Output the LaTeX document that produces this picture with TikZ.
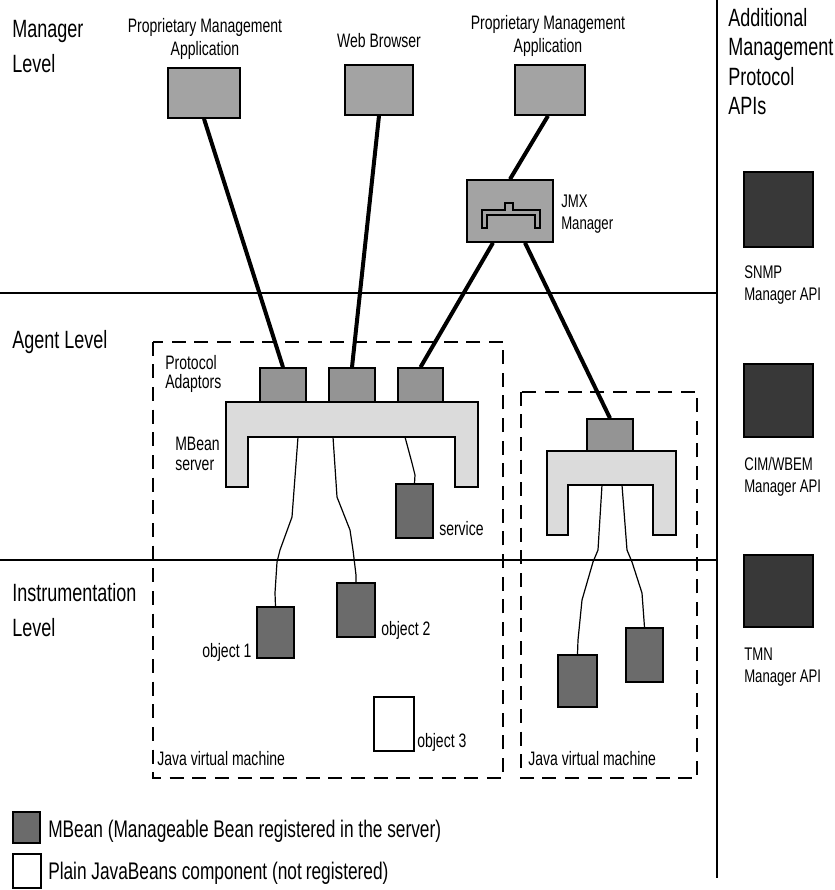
\documentclass[tikz,border=0pt]{standalone}
\usepackage{fontspec}
\setmainfont[FakeStretch=0.72]{Liberation Sans}
\usetikzlibrary{fit,calc}
\begin{document}
\begin{tikzpicture}[x=0.75pt,y=-0.75pt,
  sepline/.style={line width=1.2pt},
  jvm/.style={line width=1.5pt, dash pattern=on 10.5pt off 6.5pt},
  conn/.style={line width=3pt},
  wire/.style={line width=0.9pt},
  boxbase/.style={draw, line width=1.2pt, inner sep=0pt},
  appbox/.style={boxbase, fill=black!36},
  adbox/.style={boxbase, fill=black!42},
  srv/.style={draw, line width=1.2pt, fill=black!14},
  mbean/.style={boxbase, fill=black!58},
  plainbox/.style={boxbase, fill=white},
  apibox/.style={boxbase, fill=black!78},
  lvl/.style={font=\fontsize{18.75}{26.25}\selectfont, align=left, inner sep=0pt, anchor=north west},
  apilvl/.style={font=\fontsize{18.75}{22.1}\selectfont, align=left, inner sep=0pt, anchor=north west},
  toplbl/.style={font=\fontsize{14.6}{17.25}\selectfont, align=center, inner sep=0pt, anchor=north},
  inlbl/.style={font=\fontsize{14.6}{14.6}\selectfont, align=left, inner sep=0pt},
  smlbl/.style={font=\fontsize{13.7}{16.5}\selectfont, align=left, inner sep=0pt, anchor=north west},
  leglbl/.style={font=\fontsize{18}{20}\selectfont, inner sep=0pt, anchor=base west}
]
\useasboundingbox (0,0) rectangle (835,890);

% separators
\coordinate (v1) at (717,0);
\coordinate (v2) at (717,878);
\coordinate (h1a) at (0,293);
\coordinate (h1b) at (717,293);
\coordinate (h2a) at (0,560);
\coordinate (h2b) at (717,560);
\draw[sepline] (v1) -- (v2);
\draw[sepline] (h1a) -- (h1b);
\draw[sepline] (h2a) -- (h2b);

% level labels
\node[lvl] (tman) at (12,20) {Manager\\Level};
\node[lvl] (tagent) at (12,330) {Agent Level};
\node[lvl] (tinst) at (12,583) {Instrumentation\\Level};
\node[apilvl] (tapis) at (728,8) {Additional\\Management\\Protocol\\APIs};

% JVM boxes
\node[draw=none, inner sep=0pt, fit={(153,342) (503,778)}] (jvm1) {};
\node[draw=none, inner sep=0pt, fit={(521,392) (697,778)}] (jvm2) {};
\draw[jvm] (jvm1.north west) rectangle (jvm1.south east);
\draw[jvm] (jvm2.north west) rectangle (jvm2.south east);

% MBean servers
\draw[srv] (226,402) -- (478,402) -- (478,487) -- (455,487) -- (455,437) -- (248,437) -- (248,487) -- (226,487) -- cycle;
\draw[srv] (547,451) -- (676,451) -- (676,535) -- (653,535) -- (653,485) -- (568,485) -- (568,535) -- (547,535) -- cycle;
\coordinate (s1) at (298,437);
\coordinate (s2) at (333,437);
\coordinate (s3) at (405,437);
\coordinate (r1) at (602,485);
\coordinate (r2) at (622,485);

% manager level boxes
\node[appbox, fit={(168,68) (240,118)}] (app1) {};
\node[appbox, fit={(345,65) (413,115)}] (app2) {};
\node[appbox, fit={(515,65) (585,115)}] (app3) {};
\node[toplbl] (lapp1) at (205,18) {Proprietary Management\\Application};
\node[toplbl] (lweb) at (379,33) {Web Browser};
\node[toplbl] (lapp3) at (548,15) {Proprietary Management\\Application};

% JMX manager
\node[appbox, fit={(467,180) (553,242)}] (jmx) {};
\draw[line width=1pt] (482,228) -- (482,210) -- (505,210) -- (505,203) -- (513,203) -- (513,210) -- (540,210) -- (540,228) -- (535,228) -- (535,215) -- (487,215) -- (487,228) -- cycle;
\node[smlbl] (ljmx) at (561,195) {JMX\\Manager};
\coordinate (jl) at ($(jmx.south)+(-17,0)$);
\coordinate (jr) at ($(jmx.south)+(15,0)$);

% protocol adaptors
\node[adbox, fit={(260,368) (306,402)}] (ad1) {};
\node[adbox, fit={(329,368) (375,402)}] (ad2) {};
\node[adbox, fit={(398,368) (443,402)}] (ad3) {};
\node[adbox, fit={(587,419) (633,451)}] (ad4) {};

% thick connectors
\draw[conn] (app1.south) -- (ad1.north);
\draw[conn] (app2.south) -- (ad2.north);
\draw[conn] ($(app3.south)+(-2,0)$) -- (jmx.north);
\draw[conn] (jl) -- (ad3.north);
\draw[conn] (jr) -- (ad4.north);

% MBeans
\node[mbean, fit={(396,484) (433,538)}] (service) {};
\node[mbean, fit={(257,607) (294,658)}] (obj1) {};
\node[mbean, fit={(337,583) (375,637)}] (obj2) {};
\node[plainbox, fit={(374,697) (414,751)}] (obj3) {};
\node[mbean, fit={(558,655) (597,707)}] (objA) {};
\node[mbean, fit={(626,628) (663,682)}] (objB) {};

% wires
\draw[wire] (s1) -- (292,517) -- (280,550) -- (277,562) -- (275,593) -- (obj1.north);
\draw[wire] (s2) -- (337,497) -- (350,530) -- (353,550) -- (356,575) -- (obj2.north);
\draw[wire] (s3) -- (412,463) -- (415,475) -- (service.north);
\draw[wire] (r1) -- (598,550) -- (593,562) -- (582,600) -- (578,640) -- (objA.north);
\draw[wire] (r2) -- (627,550) -- (632,562) -- (642,593) -- (objB.north);

% agent / instrumentation labels
\node[inlbl, anchor=north west] (lproto) at (165,355) {Protocol\\Adaptors};
\node[inlbl, anchor=north west] (lmbs) at (175,437) {MBean\\server};
\node[inlbl, anchor=base west] (lserv) at (439,535) {service};
\node[inlbl, anchor=base west] (lo1) at (202,657) {object 1};
\node[inlbl, anchor=base west] (lo2) at (381,635) {object 2};
\node[inlbl, anchor=base west] (lo3) at (417,747) {object 3};
\node[inlbl, anchor=base west] (ljvm1) at (157,765) {Java virtual machine};
\node[inlbl, anchor=base west] (ljvm2) at (528,765) {Java virtual machine};

% API boxes
\node[apibox, fit={(744,172) (813,247)}] (snmp) {};
\node[apibox, fit={(744,364) (813,437)}] (cim) {};
\node[apibox, fit={(744,555) (813,627)}] (tmn) {};
\node[smlbl] (lsnmp) at (744,265) {SNMP\\Manager API};
\node[smlbl] (lcim) at (744,457) {CIM/WBEM\\Manager API};
\node[smlbl] (ltmn) at (744,648) {TMN\\Manager API};

% legend
\node[mbean, fit={(13,812) (40,843)}] (legm) {};
\node[plainbox, fit={(13,854) (41,888)}] (legp) {};
\node[leglbl] (llegm) at (48,837) {MBean (Manageable Bean registered in the server)};
\node[leglbl] (llegp) at (48,879) {Plain JavaBeans component (not\,registered)};
\end{tikzpicture}
\end{document}
